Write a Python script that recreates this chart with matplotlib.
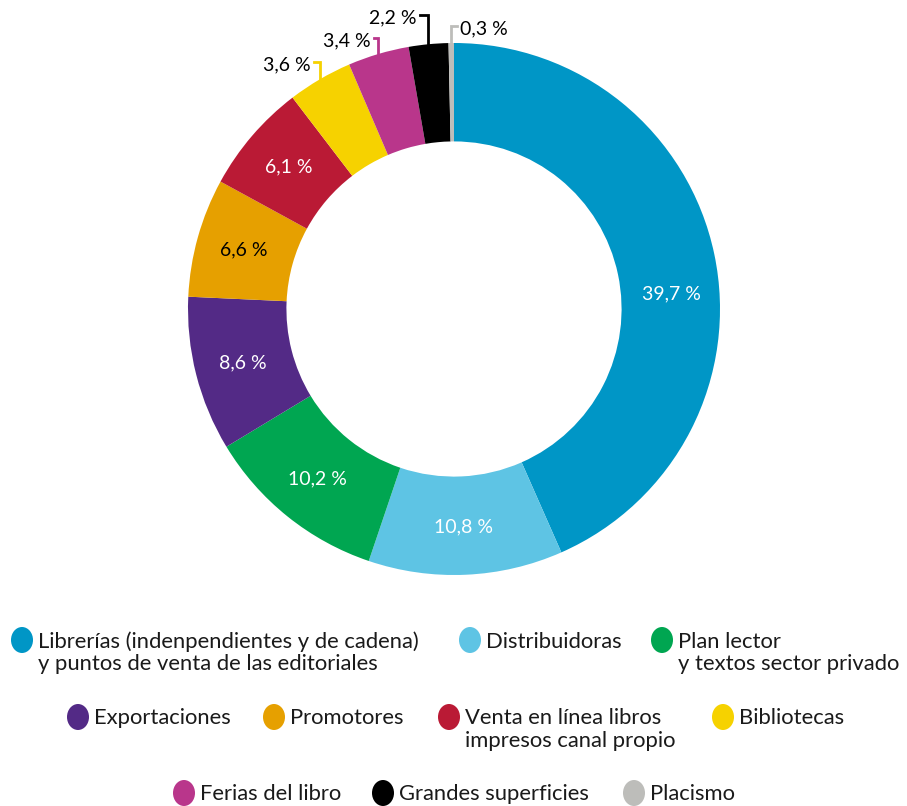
import numpy as np
import matplotlib
matplotlib.use("Agg")
import matplotlib.pyplot as plt
from matplotlib.patches import Ellipse

plt.rcParams['font.family'] = ['Lato', 'DejaVu Sans']

# data
categories = ['Librerías (indenpendientes y de cadena)\ny puntos de venta de las editoriales',
              'Distribuidoras',
              'Plan lector\ny textos sector privado',
              'Exportaciones',
              'Promotores',
              'Venta en línea libros\nimpresos canal propio',
              'Bibliotecas',
              'Ferias del libro',
              'Grandes superficies',
              'Placismo']
values = [39.7, 10.8, 10.2, 8.6, 6.6, 6.1, 3.6, 3.4, 2.2, 0.3]
colors = ['#0096C6', '#5EC4E4', '#00A651', '#532A86', '#E6A000',
          '#BA1A35', '#F6D200', '#B9368B', '#000000', '#BDBDBA']
label_colors = ['white', 'white', 'white', 'white', 'black', 'white']
# the big slice's label sits lower than its mid-angle
label_shift = {0: -8}

# outside labels for the small slices: (top of bracket, tick length, side)
outside_style = {6: (0.93, 0.022, 'left'),
                 7: (1.02, 0.016, 'left'),
                 8: (1.105, 0.032, 'left'),
                 9: (1.065, 0.022, 'right')}

W, H = 907, 806
fig = plt.figure(figsize=(W / 100, H / 100), dpi=100)

cx, cy, R = 454, 309, 266
ax = fig.add_axes([(cx - R) / W, (H - cy - R) / H, 2 * R / W, 2 * R / H])
wedges, _ = ax.pie(values, colors=colors, startangle=90, counterclock=False,
                   radius=1, wedgeprops=dict(width=0.37, linewidth=0))
ax.set_xlim(-1, 1)
ax.set_ylim(-1, 1)
ax.axis('off')


def fmt(v):
    return f'{v:.1f}'.replace('.', ',') + ' %'


for i, w in enumerate(wedges):
    ang = np.deg2rad((w.theta1 + w.theta2) / 2 + label_shift.get(i, 0))
    if i < 6:
        r = 0.82
        ax.text(r * np.cos(ang), r * np.sin(ang), fmt(values[i]),
                ha='center', va='center', fontsize=14, color=label_colors[i])
    else:
        top, tick, side = outside_style[i]
        x0, y0 = np.cos(ang), np.sin(ang)
        col = colors[i]
        if side == 'left':
            xs = [x0 - tick, x0, x0]
            tx, ha = x0 - tick - 0.012, 'right'
        else:
            xs = [x0 + tick, x0, x0]
            tx, ha = x0 + tick + 0.01, 'left'
        ax.plot(xs, [top, top, y0 - 0.005], color=col, lw=2,
                clip_on=False, solid_joinstyle='miter')
        ax.text(tx, top - 0.012, fmt(values[i]), ha=ha, va='center',
                fontsize=14, color='black')

# legend drawn in pixel coordinates
lg = fig.add_axes([0, 0, 1, 1])
lg.set_xlim(0, W)
lg.set_ylim(H, 0)
lg.axis('off')
lg.patch.set_alpha(0)

legend_rows = [([0, 1, 2], [22, 470, 662], 640),
               ([3, 4, 5, 6], [78, 274, 449, 723], 717),
               ([7, 8, 9], [184, 383, 634], 793)]
for idx, xs, y in legend_rows:
    for i, x in zip(idx, xs):
        lg.add_patch(Ellipse((x, y), 22, 26, color=colors[i], lw=0))
        lg.text(x + 16, y - 8.5, categories[i], ha='left', va='top',
                fontsize=15.8, color='#1a1a1a', linespacing=1.13)

fig.savefig('out.png', dpi=100)
